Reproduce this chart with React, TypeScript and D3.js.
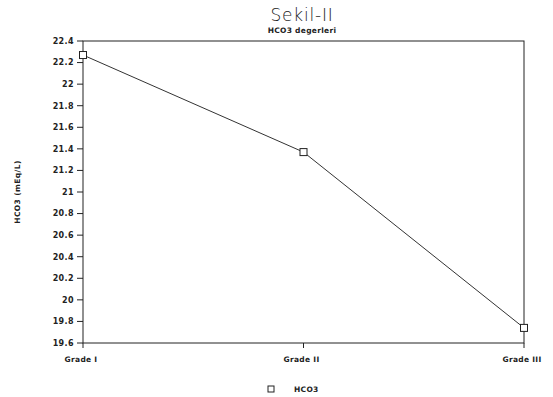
import * as d3 from "d3";

const grades = ["Grade I", "Grade II", "Grade III"];
const hco3 = [22.27, 21.37, 19.74];
const yTicks = [19.6, 19.8, 20, 20.2, 20.4, 20.6, 20.8, 21, 21.2, 21.4, 21.6, 21.8, 22, 22.2, 22.4];

const W = 553;
const H = 397;
const m = { top: 41, right: 29, bottom: 54, left: 83 };
const font = "'DejaVu Sans', sans-serif";

export default function App() {
  const x = d3
    .scalePoint<string>()
    .domain(grades)
    .range([m.left, W - m.right]);
  const y = d3
    .scaleLinear()
    .domain([19.6, 22.4])
    .range([H - m.bottom, m.top]);

  const line = d3
    .line<number>()
    .x((_, i) => x(grades[i]) as number)
    .y((d) => y(d));

  return (
    <svg
      width={W}
      height={H}
      style={{ position: "absolute", left: 0, top: 0, background: "#fff" }}
    >
      <text x={302} y={21} textAnchor="middle" fontFamily={font} fontSize={17} fontWeight={200} letterSpacing={0.8} fill="#222">
        Sekil-II
      </text>
      <text x={302} y={33} textAnchor="middle" fontFamily={font} fontSize={7.5} fontWeight="bold" letterSpacing={0.3} fill="#222">
        HCO3 degerleri
      </text>

      {/* frame */}
      <rect
        x={m.left}
        y={m.top}
        width={W - m.left - m.right}
        height={H - m.top - m.bottom}
        fill="none"
        stroke="#222"
        strokeWidth={1}
      />

      {yTicks.map((t) => (
        <g key={t}>
          <line x1={m.left - 6} x2={m.left} y1={y(t)} y2={y(t)} stroke="#222" />
          <text
            x={m.left - 9}
            y={y(t)}
            dy="0.35em"
            textAnchor="end"
            fontFamily={font}
            fontSize={8}
            fontWeight="bold"
            letterSpacing={0.4}
            fill="#222"
          >
            {t}
          </text>
        </g>
      ))}

      {grades.map((g) => (
        <g key={g}>
          <line x1={x(g)} x2={x(g)} y1={H - m.bottom} y2={H - m.bottom + 5} stroke="#222" />
          <text
            x={(x(g) as number) - 2}
            y={H - m.bottom + 19}
            textAnchor="middle"
            fontFamily={font}
            fontSize={7.5}
            fontWeight="bold"
            letterSpacing={0.3}
            fill="#222"
          >
            {g}
          </text>
        </g>
      ))}

      <text
        transform={`translate(20,${(m.top + H - m.bottom) / 2}) rotate(-90)`}
        textAnchor="middle"
        fontFamily={font}
        fontSize={7.5}
        fontWeight="bold"
        letterSpacing={0.4}
        fill="#222"
      >
        HCO3 (mEq/L)
      </text>

      <path d={line(hco3) ?? ""} fill="none" stroke="#333" strokeWidth={1} />
      {hco3.map((v, i) => (
        <rect
          key={i}
          x={(x(grades[i]) as number) - 3.5}
          y={y(v) - 3.5}
          width={7}
          height={7}
          fill="#fff"
          stroke="#222"
          strokeWidth={1}
        />
      ))}

      {/* legend */}
      <rect x={268} y={386} width={6} height={6} fill="#fff" stroke="#222" />
      <text x={294} y={392} fontFamily={font} fontSize={7.5} fontWeight="bold" letterSpacing={0.3} fill="#222">
        HCO3
      </text>
    </svg>
  );
}
